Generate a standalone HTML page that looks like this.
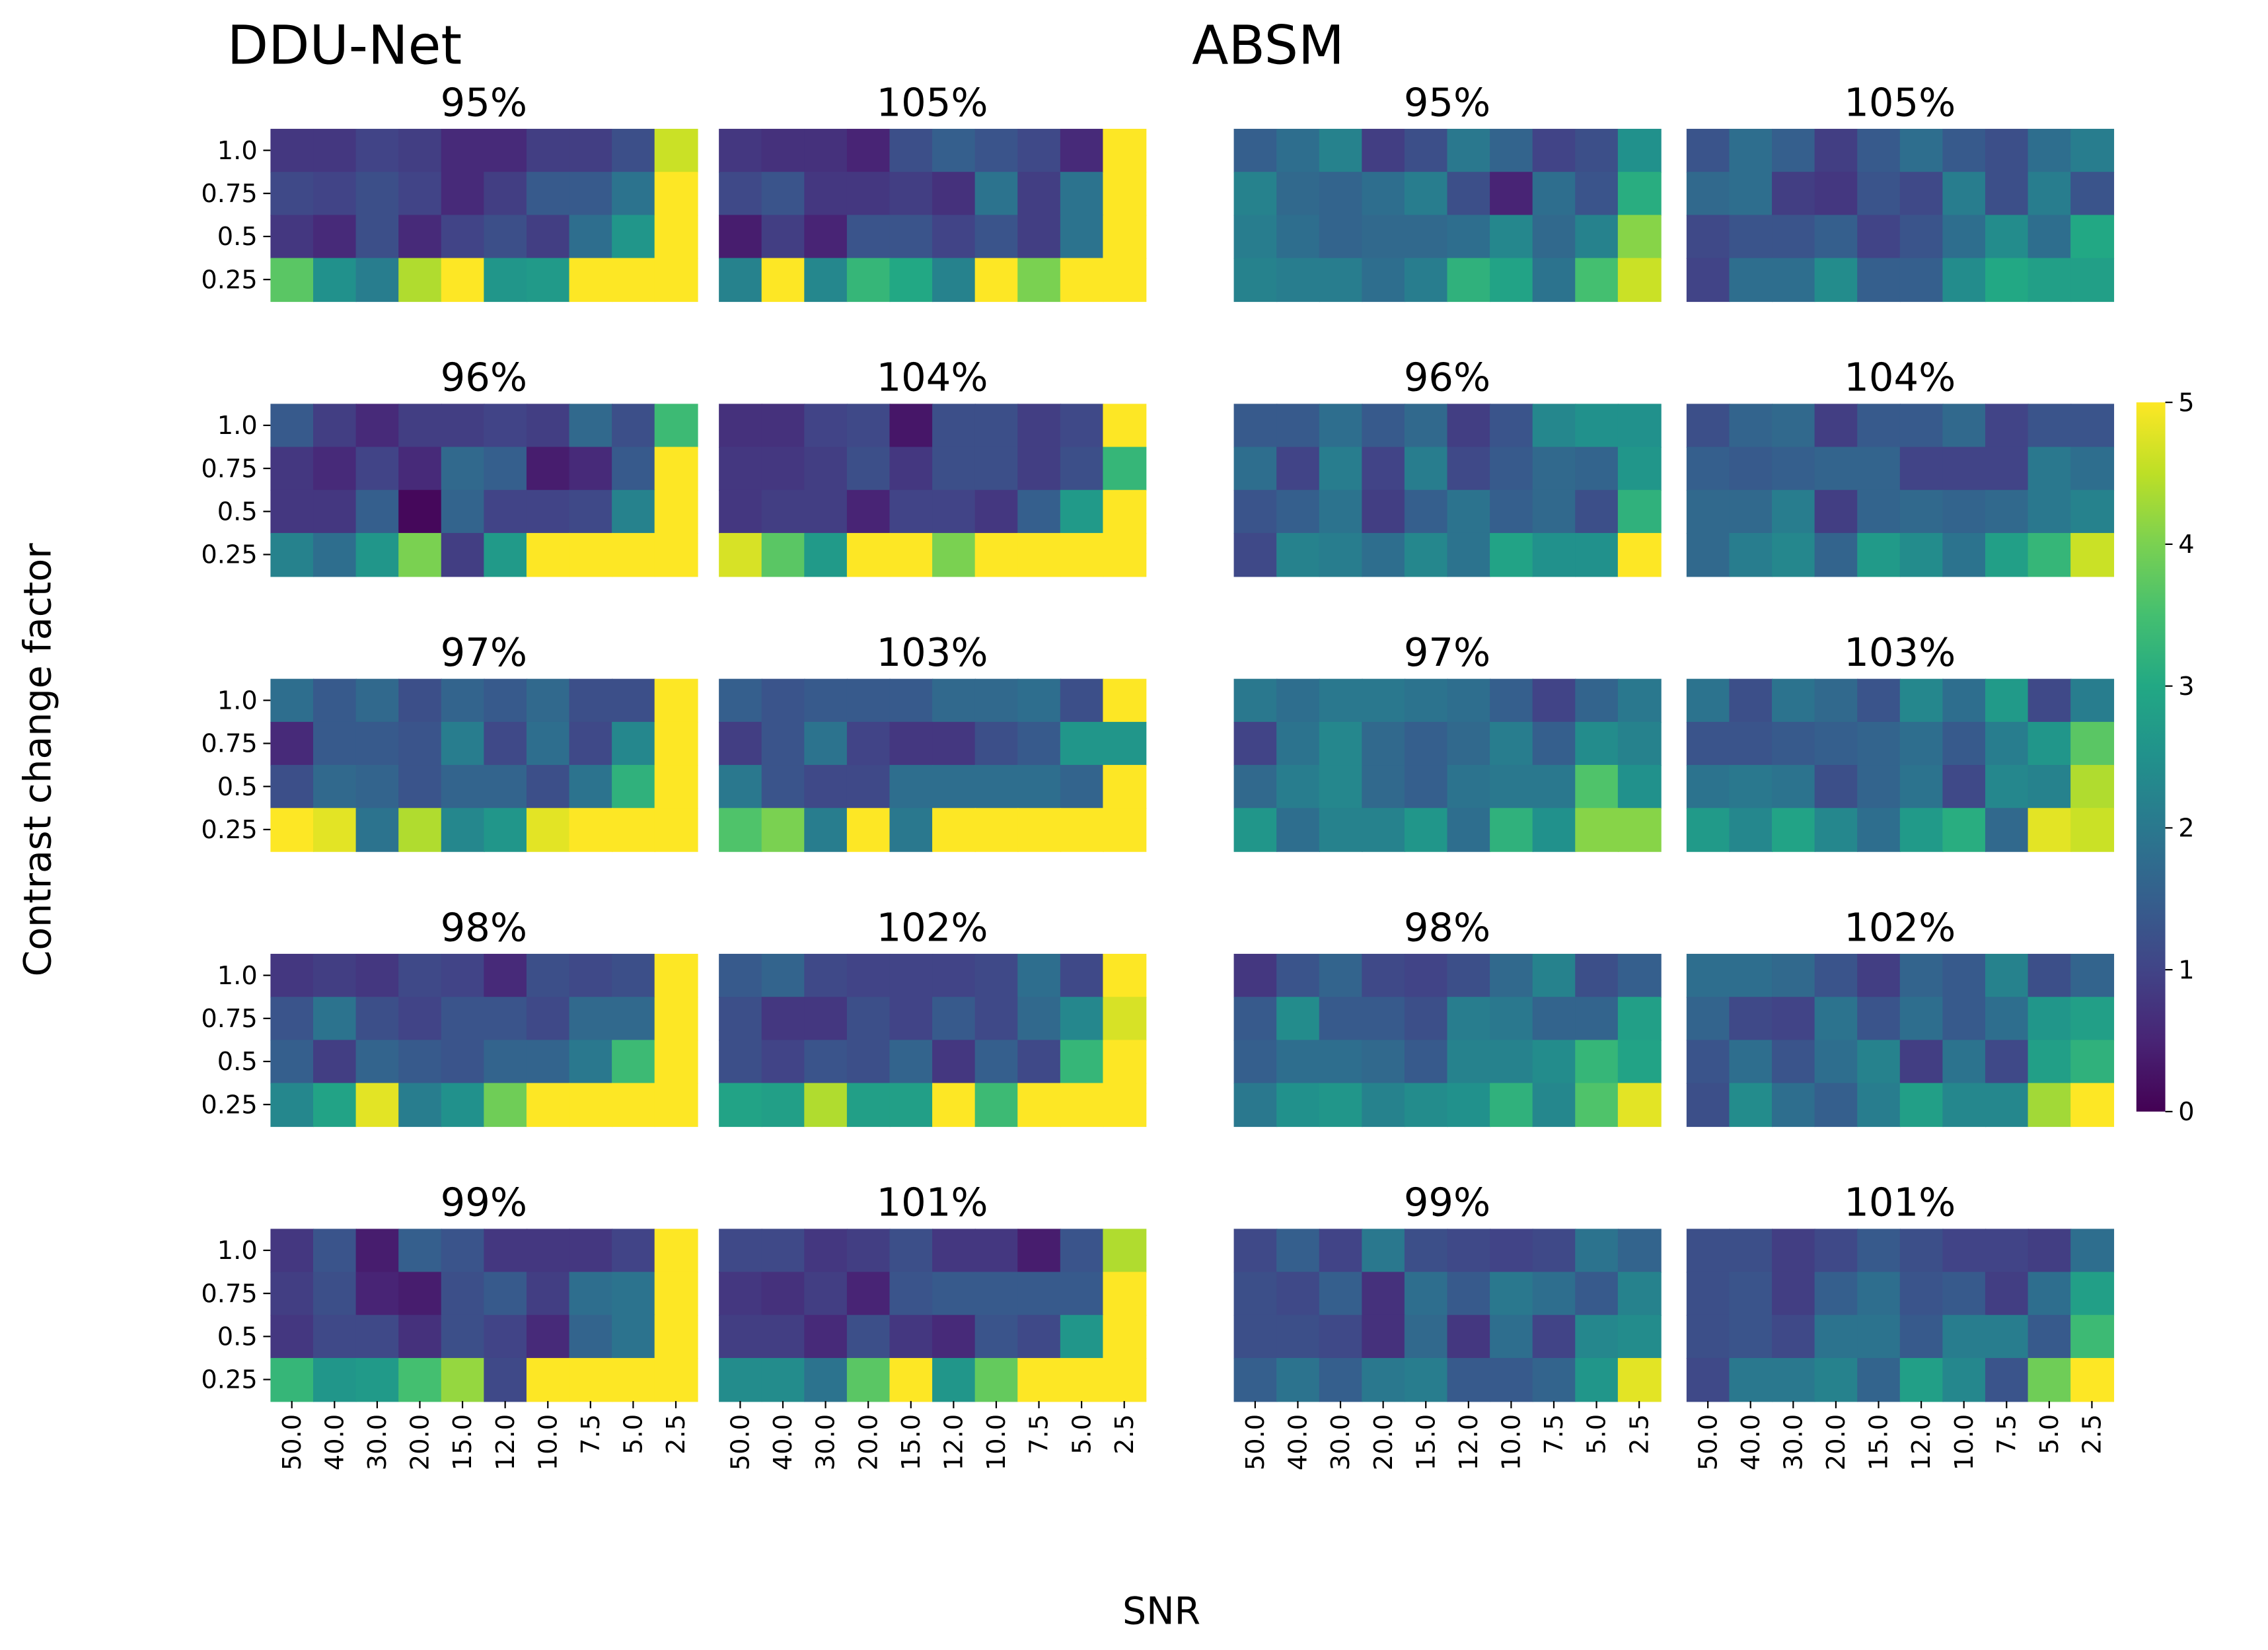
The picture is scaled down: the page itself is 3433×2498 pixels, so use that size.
<!DOCTYPE html>
<html><head><meta charset="utf-8"><style>
html,body{margin:0;padding:0;background:#fff}
svg{display:block;font-family:"DejaVu Sans","Liberation Sans",sans-serif}
</style></head><body>
<svg id="fig" width="3433" height="2498" viewBox="0 0 1568 1140" preserveAspectRatio="none" xmlns="http://www.w3.org/2000/svg">
<rect x="0" y="0" width="1568" height="1140" fill="#fff"/>
<text x="157" y="44" font-size="37">DDU-Net</text>
<text x="824" y="44" font-size="37">ABSM</text>
<text transform="translate(35,525) rotate(-90)" text-anchor="middle" font-size="26">Contrast change factor</text>
<text x="803" y="1122" text-anchor="middle" font-size="26">SNR</text>
<g id="panels"></g>
<g id="cbar"></g>
</svg>
<script>
const snrLabels=["50.0","40.0","30.0","20.0","15.0","12.0","10.0","7.5","5.0","2.5"];
const contrastLabels=["1.0","0.75","0.5","0.25"];
const cbarTicks=[0,1,2,3,4,5];
const dduTitles=[["95%","105%"],["96%","104%"],["97%","103%"],["98%","102%"],["99%","101%"]];
const absmTitles=[["95%","105%"],["96%","104%"],["97%","103%"],["98%","102%"],["99%","101%"]];
const ddu95=[[.8,.8,1.0,.9,.6,.6,.9,.9,1.2,4.6],[1.1,1.0,1.2,1.0,.6,.9,1.4,1.4,1.9,5],[.8,.6,1.2,.6,1.0,1.2,.9,1.8,2.6,5],[3.7,2.5,2.1,4.4,5,2.6,2.7,5,5,5]];
const ddu105=[[.8,.7,.7,.5,1.2,1.5,1.3,1.1,.6,5],[1.1,1.3,.8,.8,.9,.7,1.9,.9,1.9,5],[.4,.9,.5,1.3,1.3,1.0,1.3,.9,1.9,5],[2.2,5,2.3,3.3,3.0,2.2,5,4.0,5,5]];
const ddu96=[[1.4,.9,.6,.9,.9,1.0,.9,1.7,1.2,3.4],[.8,.6,1.0,.6,1.7,1.5,.4,.6,1.4,5],[.8,.8,1.5,.1,1.6,1.0,1.0,1.1,2.2,5],[2.2,1.8,2.6,4.0,.9,2.7,5,5,5,5]];
const ddu104=[[.7,.7,1.0,1.1,.3,1.2,1.2,.9,1.1,5],[.8,.8,.9,1.2,.8,1.2,1.2,.9,1.2,3.3],[.8,.9,.9,.5,1.0,1.0,.8,1.5,2.7,5],[4.7,3.7,2.7,5,5,4.0,5,5,5,5]];
const ddu97=[[1.8,1.4,1.7,1.2,1.6,1.4,1.7,1.2,1.2,5],[.6,1.4,1.4,1.3,2.1,1.1,1.8,1.1,2.3,5],[1.2,1.7,1.6,1.3,1.6,1.6,1.2,1.9,3.2,5],[5,4.8,1.9,4.4,2.3,2.6,4.8,5,5,5]];
const ddu103=[[1.5,1.3,1.4,1.4,1.4,1.7,1.7,1.8,1.2,5],[.9,1.3,1.9,1.0,.8,.8,1.2,1.4,2.6,2.6],[2.0,1.3,1.1,1.1,1.8,1.8,1.8,1.8,1.6,5],[3.6,4.0,2.1,5,2.0,5,5,5,5,5]];
const ddu98=[[.8,.9,.8,1.1,1.0,.6,1.2,1.1,1.2,5],[1.3,1.9,1.2,1.0,1.3,1.3,1.1,1.7,1.7,5],[1.5,.9,1.6,1.4,1.3,1.6,1.6,2.0,3.4,5],[2.3,2.9,4.8,2.1,2.5,3.9,5,5,5,5]];
const ddu102=[[1.4,1.6,1.1,1.0,1.0,1.0,1.1,1.8,1.1,5],[1.2,.8,.8,1.2,1.0,1.4,1.1,1.7,2.3,4.7],[1.2,1.0,1.3,1.2,1.6,.8,1.5,1.1,3.3,5],[2.9,2.8,4.4,2.8,2.8,5,3.4,5,5,5]];
const ddu99=[[.8,1.3,.4,1.5,1.3,.8,.8,.8,1.0,5],[.9,1.2,.5,.4,1.2,1.4,.9,1.8,1.9,5],[.8,1.1,1.1,.7,1.2,1.0,.6,1.6,1.9,5],[3.3,2.6,2.7,3.5,4.2,1.1,5,5,5,5]];
const ddu101=[[1.1,1.1,.8,.9,1.2,.8,.8,.4,1.3,4.4],[.8,.7,.9,.5,1.3,1.4,1.4,1.4,1.4,5],[.9,.9,.6,1.2,.8,.6,1.3,1.1,2.6,5],[2.4,2.4,1.9,3.7,5,2.6,3.8,5,5,5]];
const absm95=[[1.5,1.8,2.2,.9,1.2,2.0,1.6,1.0,1.2,2.5],[2.2,1.7,1.6,1.8,2.1,1.2,.5,1.8,1.3,3.1],[2.1,1.8,1.6,1.7,1.7,1.8,2.3,1.7,2.2,4.1],[2.2,2.1,2.1,1.8,2.1,3.2,2.9,1.9,3.5,4.6]];
const absm105=[[1.3,1.8,1.5,.9,1.4,1.8,1.4,1.2,1.8,2.1],[1.7,1.8,.9,.8,1.3,1.1,2.1,1.2,2.1,1.3],[1.1,1.3,1.3,1.5,1.0,1.3,1.8,2.4,1.8,3.0],[1.0,1.8,1.8,2.4,1.5,1.5,2.4,3.0,2.8,2.8]];
const absm96=[[1.4,1.4,1.8,1.4,1.7,.9,1.3,2.3,2.5,2.5],[1.8,1.0,2.1,1.0,2.1,1.1,1.4,1.7,1.6,2.6],[1.3,1.5,1.9,.9,1.5,1.9,1.5,1.7,1.2,3.2],[1.1,2.2,2.1,1.8,2.3,1.9,2.9,2.5,2.5,5]];
const absm104=[[1.2,1.6,1.7,.9,1.4,1.4,1.7,1.0,1.3,1.3],[1.5,1.4,1.5,1.6,1.6,1.0,1.0,1.0,2.0,1.8],[1.7,1.7,2.1,.9,1.6,1.7,1.6,1.7,2.0,2.2],[1.7,2.1,2.3,1.6,2.7,2.4,1.9,2.8,3.3,4.6]];
const absm97=[[2.0,1.8,2.0,2.0,1.9,1.8,1.5,1.0,1.6,2.0],[1.0,1.9,2.3,1.7,1.5,1.7,2.1,1.5,2.4,2.2],[1.7,2.1,2.3,1.7,1.5,1.9,2.0,2.0,3.6,2.5],[2.6,1.8,2.2,2.2,2.6,1.8,3.2,2.5,4.1,4.1]];
const absm103=[[1.9,1.2,1.9,1.7,1.3,2.3,1.8,2.7,1.1,2.1],[1.3,1.3,1.4,1.5,1.6,1.8,1.4,2.1,2.6,3.7],[1.9,2.0,1.9,1.2,1.6,1.9,1.1,2.3,2.2,4.4],[2.7,2.3,2.9,2.3,1.8,2.7,3.1,1.7,4.8,4.6]];
const absm98=[[.8,1.3,1.6,1.1,1.0,1.2,1.7,2.2,1.2,1.5],[1.4,2.4,1.4,1.4,1.2,2.1,2.0,1.6,1.6,2.8],[1.5,1.8,1.8,1.7,1.4,2.2,2.2,2.4,3.3,2.9],[2.0,2.5,2.6,2.2,2.4,2.5,3.2,2.3,3.6,4.8]];
const absm102=[[1.8,1.8,1.7,1.3,.9,1.6,1.4,2.2,1.2,1.6],[1.6,1.1,1.0,1.9,1.3,1.8,1.4,1.8,2.6,2.8],[1.3,1.8,1.3,1.8,2.2,.9,1.9,1.1,2.8,3.2],[1.2,2.4,1.8,1.5,2.1,2.8,2.3,2.3,4.3,5]];
const absm99=[[1.1,1.5,1.0,2.0,1.2,1.1,1.0,1.1,1.9,1.6],[1.2,1.1,1.5,.7,1.8,1.4,2.0,1.8,1.4,2.2],[1.2,1.2,1.1,.7,1.7,.8,1.8,1.0,2.3,2.4],[1.5,1.9,1.5,2.0,2.1,1.4,1.4,1.6,2.6,4.8]];
const absm101=[[1.2,1.2,.9,1.1,1.4,1.2,1.0,1.0,.9,1.8],[1.2,1.3,.9,1.5,1.8,1.3,1.4,.9,1.8,2.8],[1.2,1.3,1.1,1.9,1.9,1.4,2.1,2.1,1.4,3.4],[1.1,2.0,2.0,2.2,1.6,2.8,2.3,1.3,3.9,5]];

const grid=[[ddu95,ddu105,absm95,absm105],[ddu96,ddu104,absm96,absm104],[ddu97,ddu103,absm97,absm103],[ddu98,ddu102,absm98,absm102],[ddu99,ddu101,absm99,absm101]];

const vir=["#440154","#482475","#414487","#355f8d","#2a788e","#21918c","#22a884","#44bf70","#7ad151","#bddf26","#fde725"];
function hex(h){return [1,3,5].map(i=>parseInt(h.substr(i,2),16));}
function color(v){let t=Math.max(0,Math.min(5,v))/5*10;let i=Math.min(9,Math.floor(t));let f=t-i;
 const a=hex(vir[i]),b=hex(vir[i+1]);return "rgb("+a.map((c,k)=>Math.round(c+(b[k]-c)*f)).join(",")+")";}
const NS="http://www.w3.org/2000/svg";
function mk(tag,attrs,parent){const e=document.createElementNS(NS,tag);for(const k in attrs)e.setAttribute(k,attrs[k]);parent.appendChild(e);return e;}
const colX=[187,497,853,1166], pw=295, rowY=[89,279,469,659,849], ph=119;
const cw=pw/snrLabels.length, rh=ph/contrastLabels.length;
function xScale(c,i){return colX[c]+i*cw;}
function yScale(r,j){return rowY[r]+j*rh;}
const panels=document.getElementById('panels');
for(let r=0;r<5;r++){for(let c=0;c<4;c++){
 const data=grid[r][c];
 const g=mk('g',{},panels);
 
 
 const title=(c<2?dduTitles:absmTitles)[r][c%2];
 const t=mk('text',{x:colX[c]+pw/2,y:rowY[r]-9,'text-anchor':'middle','font-size':27},g);t.textContent=title;
 
 
 for(let j=0;j<data.length;j++)for(let i=0;i<data[j].length;i++){
  const cell=mk('rect',{x:xScale(c,i),y:yScale(r,j),width:cw+0.6,height:rh+0.6,fill:color(data[j][i])},g);
  
  
 }
 if(c===0){
  for(let j=0;j<contrastLabels.length;j++){
   const yy=yScale(r,j)+rh/2;
   mk('line',{x1:colX[c]-5,x2:colX[c],y1:yy,y2:yy,stroke:'#000','stroke-width':1},g);
   const l=mk('text',{x:colX[c]-9,y:yy+6,'text-anchor':'end','font-size':17.5},g);l.textContent=contrastLabels[j];
   
   
  }
 }
 if(r===4){
  for(let i=0;i<snrLabels.length;i++){
   const xx=xScale(c,i)+cw/2, y0=rowY[r]+ph;
   mk('line',{x1:xx,x2:xx,y1:y0,y2:y0+5,stroke:'#000','stroke-width':1},g);
   const l=mk('text',{transform:`translate(${xx+6},${y0+9}) rotate(-90)`,'text-anchor':'end','font-size':17.5},g);l.textContent=snrLabels[i];
   
   
  }
 }
}}
const cb=document.getElementById('cbar');


const defs=mk('defs',{},cb);const lg=mk('linearGradient',{id:'vg',x1:0,y1:1,x2:0,y2:0},defs);
vir.forEach((c,i)=>mk('stop',{offset:i/10,'stop-color':c},lg));
const cbX=1477,cbW=20,cbY=278,cbH=490;
mk('rect',{x:cbX,y:cbY,width:cbW,height:cbH,fill:'url(#vg)'},cb);
function cbScale(v){return cbY+cbH-(v/5)*cbH;}
cbarTicks.forEach(v=>{const yy=cbScale(v);mk('line',{x1:cbX+cbW,x2:cbX+cbW+5,y1:yy,y2:yy,stroke:'#000','stroke-width':1},cb);
 const l=mk('text',{x:cbX+cbW+9,y:yy+6,'font-size':17.5},cb);l.textContent=v;
 
 });
</script>
</body></html>
